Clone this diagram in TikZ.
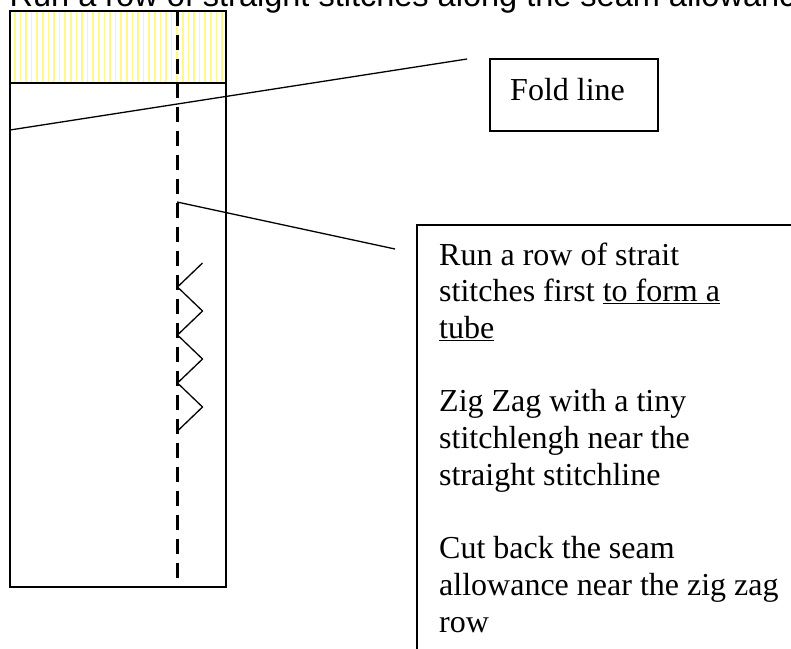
\documentclass[tikz,border=0pt]{standalone}
\usepackage{fontspec}
\setmainfont{Liberation Serif}
\newfontfamily\arialfont{Liberation Sans}
\tikzset{
  outline/.style={draw=black, line width=1.5pt},
  stripe/.style={draw=yellow!45, line width=1.5pt},
  seamline/.style={line width=3.2pt, dash pattern=on 15pt off 9pt},
  leader/.style={line width=1.3pt},
  bodytext/.style={font=\fontsize{32}{36.7}\selectfont, inner sep=0pt},
}
\begin{document}
\begin{tikzpicture}[x=1pt,y=-1pt]
\useasboundingbox (0,0) rectangle (791,648);
% yellow striped hem area
\foreach \i in {0,...,37} \draw[stripe] ({14.8+\i*5.6},11.5) -- ({14.8+\i*5.6},82.5);
% garment piece
\node[outline, rectangle, minimum width=216pt, minimum height=576pt, inner sep=0pt] (garment) at (118,299) {};
\coordinate (hemL) at (10,83);
\coordinate (hemR) at (226,83);
\draw[outline] (hemL) -- (hemR);
% straight stitch line
\coordinate (seamT) at (177.5,11);
\coordinate (seamB) at (177.5,587);
\draw[seamline] (seamT) -- (seamB);
% zig zag
\draw[line width=1.3pt] (202.5,263) -- (177.5,287) -- (202.5,311) -- (177.5,335) -- (202.5,359) -- (177.5,383) -- (202.5,407) -- (177.5,431);
% title
\node[anchor=base west, inner sep=0pt, font=\arialfont\fontsize{32.5}{36}\selectfont] (title) at (9.5,6.5) {Run a row of straight stitches along the seam allowance};
% fold line label
\node[outline, rectangle, minimum width=168pt, minimum height=72pt, inner sep=0pt] (foldbox) at (574,95) {};
\node[bodytext, anchor=base west] (foldtext) at (510,100) {Fold line};
\coordinate (foldL) at (10,130);
\coordinate (foldR) at (467,59);
\draw[leader] (foldL) -- (foldR);
% note box
\coordinate (noteTR) at (796,225);
\coordinate (noteTL) at (417,225);
\coordinate (noteBL) at (417,653);
\draw[outline] (noteTR) -- (noteTL) -- (noteBL);
\node[bodytext, anchor=base west] (notetext) at (439,265) {\parbox[t]{345pt}{\raggedright
Run a row of strait\\
stitches first \underline{to form a}\\
\underline{tube}\\[36.7pt]
Zig Zag with a tiny\\
stitchlengh near the\\
straight stitchline\\[36.7pt]
Cut back the seam\\
allowance near the zig zag\\
row}};
\coordinate (seamP) at (177,202);
\coordinate (noteP) at (395,249);
\draw[leader] (seamP) -- (noteP);
\end{tikzpicture}
\end{document}
